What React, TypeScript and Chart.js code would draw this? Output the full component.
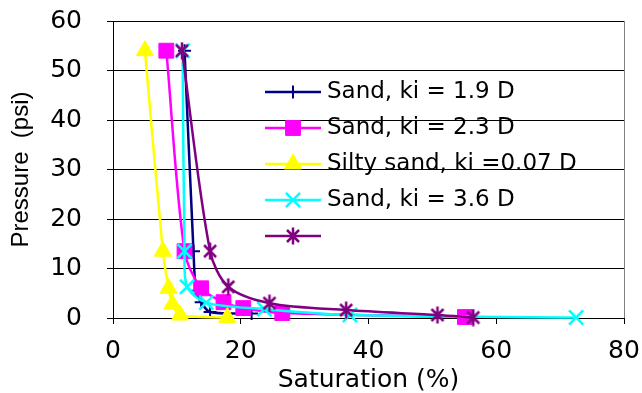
import React, { useEffect, useRef } from 'react';
import { Chart, registerables } from 'chart.js';
import { drawPoint } from 'chart.js/helpers';

Chart.register(...registerables);

// ---- data ----
const seriesNames = [
  'Sand, ki = 1.9 D',
  'Sand, ki = 2.3 D',
  'Silty sand, ki =0.07 D',
  'Sand, ki = 3.6 D',
  '',
];

const sand19Sat = [11.2, 12.6, 13.0, 13.8, 15.2, 21.7];
const sand19Pres = [54, 13.5, 5.5, 3.2, 1.2, 0.9];

const sand23Sat = [8.35, 11.2, 13.8, 17.3, 20.4, 26.5, 55.1];
const sand23Pres = [54, 13.5, 6.0, 3.2, 2.0, 1.0, 0.2];

const siltySat = [5.0, 7.8, 8.7, 9.3, 10.5, 17.9];
const siltyPres = [54, 13.5, 6.0, 2.8, 0.6, 0.1];

const sand36Sat = [10.9, 11.2, 11.6, 14.6, 23.7, 37.1, 72.5];
const sand36Pres = [54, 13.5, 6.3, 3.1, 1.8, 0.6, 0.1];

const fifthSat = [10.8, 15.2, 18.05, 24.5, 36.5, 50.8, 56.4];
const fifthPres = [54, 13.5, 6.3, 3.0, 1.6, 0.6, 0.1];

const xTicks = [0, 20, 40, 60, 80];
const yTicks = [0, 10, 20, 30, 40, 50, 60];

const xTitle = 'Saturation (%)';
const yTitle = 'Pressure  (psi)';

const toPts = (xs: number[], ys: number[]) => xs.map((x, i) => ({ x, y: ys[i] }));

function makeStar(color: string): HTMLCanvasElement {
  const c = document.createElement('canvas');
  c.width = 18;
  c.height = 18;
  const g = c.getContext('2d')!;
  g.strokeStyle = color;
  g.lineWidth = 2.5;
  g.beginPath();
  g.moveTo(3, 3);
  g.lineTo(15, 15);
  g.moveTo(15, 3);
  g.lineTo(3, 15);
  g.moveTo(9, 0.5);
  g.lineTo(9, 17.5);
  g.stroke();
  return c;
}

const legendPlugin = {
  id: 'insideLegend',
  afterDatasetsDraw(chart: any) {
    const ctx = chart.ctx as CanvasRenderingContext2D;
    const area = chart.chartArea;
    const x0 = area.left + 152;
    const top = 92;
    const gap = 36;
    ctx.save();
    chart.data.datasets.forEach((ds: any, i: number) => {
      const y = top + i * gap;
      ctx.strokeStyle = ds.borderColor;
      ctx.lineWidth = ds.borderWidth;
      ctx.beginPath();
      ctx.moveTo(x0, y);
      ctx.lineTo(x0 + 56, y);
      ctx.stroke();
      ctx.fillStyle = ds.pointBackgroundColor;
      ctx.strokeStyle = ds.pointBorderColor;
      ctx.lineWidth = ds.pointBorderWidth;
      drawPoint(
        ctx,
        { pointStyle: ds.pointStyle, radius: ds.pointRadius, borderWidth: ds.pointBorderWidth, rotation: 0 } as any,
        x0 + 28,
        y
      );
      ctx.fillStyle = '#000';
      ctx.font = '23px "DejaVu Sans"';
      ctx.textBaseline = 'middle';
      ctx.textAlign = 'left';
      ctx.fillText(ds.label, x0 + 62, y);
    });
    ctx.restore();
  },
};

export default function App() {
  const ref = useRef<HTMLCanvasElement>(null);

  useEffect(() => {
    if (!ref.current) return;
    const star = makeStar('#800080');
    const mk = (
      i: number,
      xs: number[],
      ys: number[],
      color: string,
      pointStyle: any,
      radius: number,
      pbw: number
    ) => ({
      label: seriesNames[i],
      data: toPts(xs, ys),
      borderColor: color,
      backgroundColor: color,
      pointBackgroundColor: color,
      pointBorderColor: color,
      pointStyle,
      pointRadius: radius,
      pointHoverRadius: radius,
      pointBorderWidth: pbw,
      borderWidth: 2.5,
      tension: 0.3,
      showLine: true,
      clip: false as any,
      order: 4 - i,
    });

    const chart = new Chart(ref.current, {
      type: 'scatter',
      data: {
        datasets: [
          mk(0, sand19Sat, sand19Pres, '#000080', 'cross', 6.5, 2),
          mk(1, sand23Sat, sand23Pres, '#FF00FF', 'rect', 10.5, 1),
          mk(2, siltySat, siltyPres, '#FFFF00', 'triangle', 10, 1),
          mk(3, sand36Sat, sand36Pres, '#00FFFF', 'crossRot', 10, 2.5),
          mk(4, fifthSat, fifthPres, '#800080', star, 9, 2),
        ] as any,
      },
      options: {
        animation: false,
        responsive: false,
        maintainAspectRatio: false,
        events: [],
        layout: { padding: { top: 21, right: 18, bottom: 0, left: 0 } },
        plugins: {
          legend: { display: false },
          tooltip: { enabled: false },
        },
        scales: {
          x: {
            type: 'linear',
            min: 0,
            max: 80,
            afterBuildTicks: (s: any) => {
              s.ticks = xTicks.map((v) => ({ value: v }));
            },
            ticks: {
              color: '#000',
              padding: 12,
              maxRotation: 0,
              font: { family: '"DejaVu Sans"', size: 25 },
            },
            grid: {
              drawOnChartArea: true,
              color: (c: any) => (c.tick && c.tick.value === 80 ? '#808080' : 'rgba(0,0,0,0)'),
              tickColor: '#000',
              tickLength: 6,
            },
            border: { color: '#000', width: 1 },
            title: {
              display: true,
              text: xTitle,
              color: '#000',
              padding: 0,
              font: { family: '"DejaVu Sans"', size: 25, lineHeight: 1 },
            },
            afterFit: (s: any) => {
              s.height = 75;
              s.paddingLeft = 0;
              s.paddingRight = 0;
            },
          },
          y: {
            type: 'linear',
            min: 0,
            max: 60,
            afterBuildTicks: (s: any) => {
              s.ticks = yTicks.map((v) => ({ value: v }));
            },
            ticks: {
              color: '#000',
              padding: 25,
              font: { family: '"DejaVu Sans"', size: 25 },
            },
            grid: { color: '#000', tickColor: '#000', tickLength: 6 },
            border: { color: '#000', width: 1 },
            title: {
              display: true,
              text: yTitle,
              color: '#000',
              padding: { top: 7, bottom: 0 },
              font: { family: '"Liberation Sans", Arial', size: 24, lineHeight: 1.2 },
            },
            afterFit: (s: any) => {
              s.width = 113;
              s.paddingTop = 0;
              s.paddingBottom = 0;
            },
          },
        },
      },
      plugins: [legendPlugin],
    });
    return () => chart.destroy();
  }, []);

  return (
    <div style={{ position: 'absolute', left: 0, top: 0, width: 642, height: 393, background: '#fff' }}>
      <canvas ref={ref} width={642} height={393} style={{ display: 'block' }} />
    </div>
  );
}
